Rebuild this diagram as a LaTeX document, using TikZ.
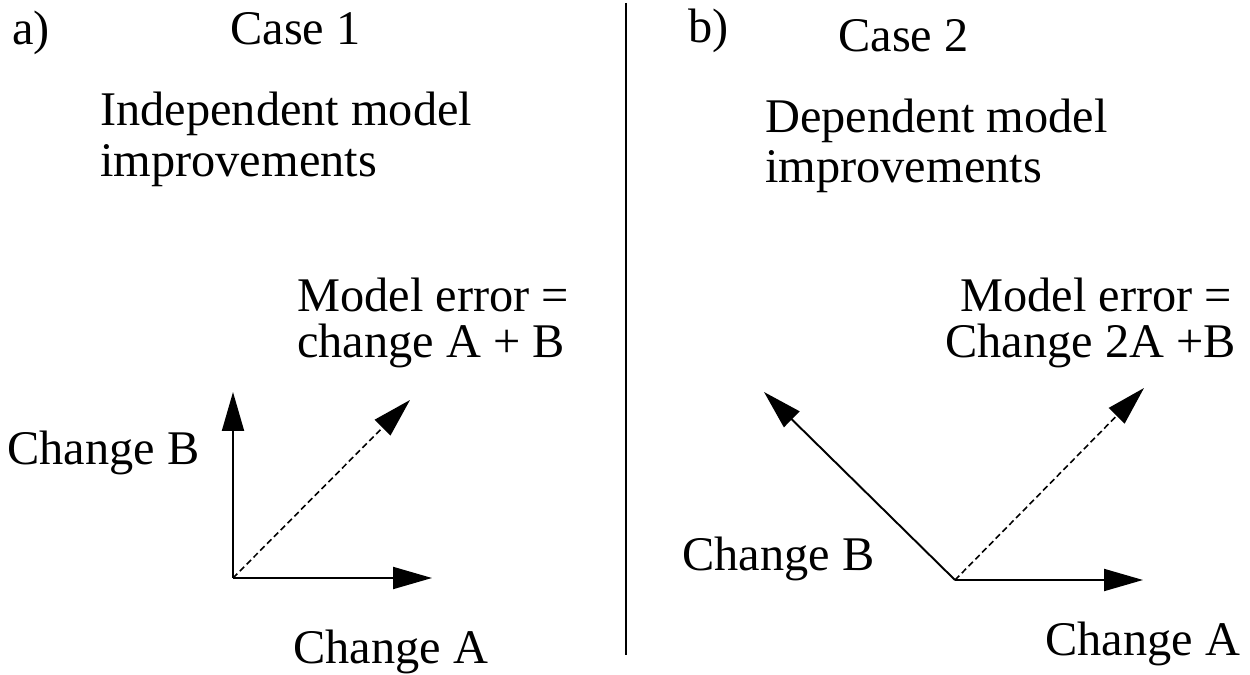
\documentclass[tikz,border=0pt]{standalone}
\usepackage{fontspec}
\setmainfont{Liberation Serif}
\usetikzlibrary{arrows.meta}

\begin{document}
\begin{tikzpicture}[
		t/.style = {anchor=base west, inner sep=0pt, font=\fontsize{27.5}{33}\selectfont},
		v/.style = {-{Triangle[length=0.78cm, width=0.44cm]}, line width=1.1pt},
		d/.style = {v, line width=0.9pt, dash pattern=on 3.5pt off 2pt},
		sep/.style = {line width=1.1pt}
		]
		\useasboundingbox (0, 0) rectangle (25, 13.48);
		
		%Nodes
		\node[t]	(la)	at	(0.24, 12.58)	{a)};
		\node[t]	(casea)	at	(4.6, 12.58)	{Case 1};
		\node[t]	(inda1)	at	(2.0, 10.96)	{Independent model};
		\node[t]	(inda2)	at	(2.0, 9.94)		{improvements};
		\node[t]	(erra1)	at	(5.94, 7.24)	{Model error =};
		\node[t]	(erra2)	at	(5.94, 6.32)	{change A + B};
		\node[t]	(cba)	at	(0.14, 4.18)	{Change B};
		\node[t]	(caa)	at	(5.86, 0.22)	{Change A};
		
		\node[t]	(lb)	at	(13.76, 12.62)	{b)};
		\node[t]	(caseb)	at	(16.76, 12.44)	{Case 2};
		\node[t]	(depb1)	at	(15.3, 10.82)	{Dependent model};
		\node[t]	(depb2)	at	(15.3, 9.82)	{improvements};
		\node[t]	(errb1)	at	(19.2, 7.24)	{Model error =};
		\node[t]	(errb2)	at	(18.9, 6.32)	{Change 2A +B};
		\node[t]	(cbb)	at	(13.64, 2.08)	{Change B};
		\node[t]	(cab)	at	(20.9, 0.38)	{Change A};
		
		\coordinate	(oa)	at	(4.66, 1.92);
		\coordinate	(ba)	at	(4.66, 5.64);
		\coordinate	(aa)	at	(8.64, 1.92);
		\coordinate	(sa)	at	(8.20, 5.48);
		\coordinate	(ob)	at	(19.10, 1.88);
		\coordinate	(bb)	at	(15.28, 5.64);
		\coordinate	(ab)	at	(22.86, 1.88);
		\coordinate	(sb)	at	(22.88, 5.72);
		\coordinate	(top)	at	(12.52, 13.42);
		\coordinate	(bot)	at	(12.52, 0.38);
		
		%Lines
		\draw[sep]	(top)	--	(bot);
		\draw[v]	(oa)	--	(ba);
		\draw[v]	(oa)	--	(aa);
		\draw[d]	(oa)	--	(sa);
		\draw[v]	(ob)	--	(bb);
		\draw[v]	(ob)	--	(ab);
		\draw[d]	(ob)	--	(sb);
	\end{tikzpicture}
\end{document}
